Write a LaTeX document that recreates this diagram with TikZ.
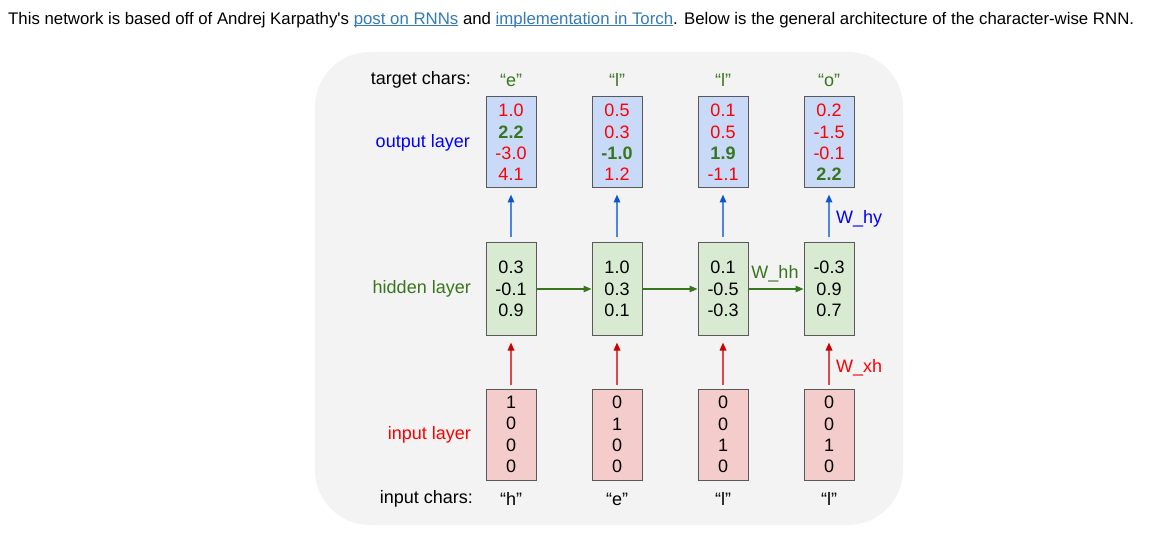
\documentclass[tikz,border=0pt]{standalone}
\usepackage{fontspec}
\setmainfont{Liberation Sans}
\usetikzlibrary{arrows.meta}
\definecolor{bgc}{HTML}{F3F3F3}
\definecolor{boxc}{HTML}{595959}
\definecolor{outc}{HTML}{C9DAF8}
\definecolor{hidc}{HTML}{D9EAD3}
\definecolor{inc}{HTML}{F4CCCC}
\definecolor{gr}{HTML}{38761D}
\definecolor{rd}{HTML}{FF0000}
\definecolor{bl}{HTML}{0000FF}
\definecolor{arrbl}{HTML}{1155CC}
\definecolor{shbl}{HTML}{4A86E8}
\definecolor{arrrd}{HTML}{CC0000}
\definecolor{shrd}{HTML}{E04848}
\definecolor{linkc}{HTML}{337AB7}
\newcommand{\R}[1]{\textcolor{rd}{#1}}
\newcommand{\G}[1]{\textcolor{gr}{\bfseries #1}}
\newcommand{\lnk}[1]{\textcolor{linkc}{\setbox0\hbox{#1}\rlap{\rule[-2pt]{\wd0}{0.9pt}}\box0}}
\begin{document}
\begin{tikzpicture}[x=1pt,y=-1pt,
  vbox/.style={draw=boxc, line width=1pt, minimum width=50pt, inner sep=0pt, align=center,
    font=\fontsize{18}{21.3}\selectfont},
  obox/.style={vbox, fill=outc, minimum height=91pt},
  hbox/.style={vbox, fill=hidc, minimum height=92pt},
  ibox/.style={vbox, fill=inc, minimum height=91pt},
  lbl/.style={font=\fontsize{18}{21}\selectfont, inner sep=0pt},
  barr/.style={draw=shbl, line width=1.6pt, -{Triangle[length=8pt,width=6.5pt,color=arrbl,fill=arrbl]}},
  rarr/.style={draw=shrd, line width=1.6pt, -{Triangle[length=8pt,width=6.5pt,color=arrrd,fill=arrrd]}},
  garr/.style={draw=gr, line width=1.2pt, -{Triangle[length=8pt,width=6.5pt,color=gr,fill=gr]}}
]
\useasboundingbox (0,0) rectangle (1167,537);
\node[anchor=west, inner sep=0pt, font=\fontsize{16.8}{20}\selectfont] (hdr) at (8,20)
  {This network is based off of Andrej Karpathy\textquotesingle s \lnk{post on RNNs} and \lnk{implementation in Torch}. Below is the general architecture of the character-wise RNN.};
\fill[bgc, rounded corners=55pt] (315,52) rectangle (903,525);

% left labels
\node[lbl, anchor=east] (ltc) at (471,80) {target chars:};
\node[lbl, anchor=east, text=bl] (lol) at (470,143) {output layer};
\node[lbl, anchor=east, text=gr] (lhl) at (471,289) {hidden layer};
\node[lbl, anchor=east, text=rd] (lil) at (471,435) {input layer};
\node[lbl, anchor=east] (lic) at (473,499) {input chars:};

% target chars
\node[lbl, text=gr] (t1) at (511,80) {“e”};
\node[lbl, text=gr] (t2) at (617,80) {“l”};
\node[lbl, text=gr] (t3) at (723,80) {“l”};
\node[lbl, text=gr] (t4) at (829,80) {“o”};

% output boxes
\node[obox] (o1) at (511,142.5) {\R{1.0}\\\G{2.2}\\\R{-3.0}\\\R{4.1}};
\node[obox] (o2) at (617,142.5) {\R{0.5}\\\R{0.3}\\\G{-1.0}\\\R{1.2}};
\node[obox] (o3) at (723,142.5) {\R{0.1}\\\R{0.5}\\\G{1.9}\\\R{-1.1}};
\node[obox] (o4) at (829,142.5) {\R{0.2}\\\R{-1.5}\\\R{-0.1}\\\G{2.2}};

% hidden boxes
\node[hbox] (h1) at (511,289) {0.3\\-0.1\\0.9};
\node[hbox] (h2) at (617,289) {1.0\\0.3\\0.1};
\node[hbox] (h3) at (723,289) {0.1\\-0.5\\-0.3};
\node[hbox] (h4) at (829,289) {-0.3\\0.9\\0.7};

% input boxes
\node[ibox] (i1) at (511,434.5) {1\\0\\0\\0};
\node[ibox] (i2) at (617,434.5) {0\\1\\0\\0};
\node[ibox] (i3) at (723,434.5) {0\\0\\1\\0};
\node[ibox] (i4) at (829,434.5) {0\\0\\1\\0};

% input chars
\node[lbl] (c1) at (511,499) {“h”};
\node[lbl] (c2) at (617,499) {“e”};
\node[lbl] (c3) at (723,499) {“l”};
\node[lbl] (c4) at (829,499) {“l”};

% arrows
\foreach \k in {1,2,3,4}{
  \draw[barr] ([yshift=5pt]h\k.north) -- ([yshift=-6pt]o\k.south);
  \draw[rarr] ([yshift=4pt]i\k.north) -- ([yshift=-7pt]h\k.south);
}
\draw[garr] (h1.east) -- (h2.west);
\draw[garr] (h2.east) -- (h3.west);
\draw[garr] (h3.east) -- (h4.west);

% weight labels
\node[lbl, text=bl, anchor=west] (why) at (836,219) {W\_hy};
\node[lbl, text=rd, anchor=west] (wxh) at (836,368) {W\_xh};
\node[lbl, text=gr] (whh) at (775,274) {W\_hh};
\end{tikzpicture}
\end{document}
